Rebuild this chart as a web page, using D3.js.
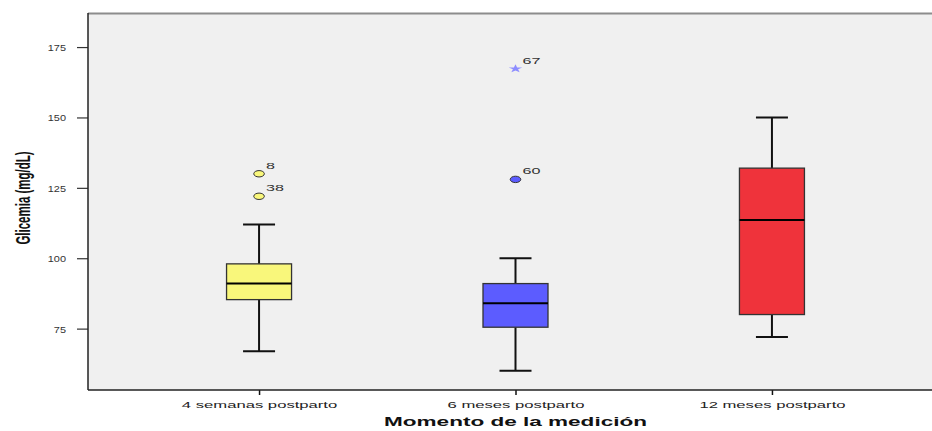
<!DOCTYPE html>
<html>
<head>
<meta charset="utf-8">
<script src="https://cdn.jsdelivr.net/npm/d3@7/dist/d3.min.js"></script>
<style>
  html, body { margin: 0; padding: 0; background: #ffffff; }
  svg { display: block; }
  text { font-family: "Liberation Sans", Arial, sans-serif; }
</style>
</head>
<body>
<svg id="chart" width="932" height="431"></svg>
<script>
// Glycemia by measurement moment (box plot)
const categories = ["4 semanas postparto", "6 meses postparto", "12 meses postparto"];
const whiskerLow  = [67, 60, 72];
const q1          = [85.3, 75.5, 80];
const median      = [91, 84, 113.6];
const q3          = [98, 91, 132];
const whiskerHigh = [112, 100, 150];
const boxColors   = ["#f9f77b", "#5c5cff", "#ef333b"];

// Outliers (circles) and extreme values (stars), labelled with case number
const outlierCategory = [0, 0, 1, 1];
const outlierValue    = [130, 122, 128, 167.3];
const outlierCase     = ["8", "38", "60", "67"];
const outlierKind     = ["circle", "circle", "circle", "star"];

const yTicks = [75, 100, 125, 150, 175];
const yDomain = [53.2, 187.1];

const xTitle = "Momento de la medición";
const yTitle = "Glicemia (mg/dL)";

const svg = d3.select("#chart");
const W = 932;
const plot = { left: 88, right: 943, top: 13, bottom: 390 };

const x = d3.scalePoint().domain(categories).range([plot.left, plot.right]).padding(0.667);
const y = d3.scaleLinear().domain(yDomain).range([plot.bottom, plot.top]);

// plot background
svg.append("rect")
  .attr("x", plot.left).attr("y", plot.top)
  .attr("width", W - plot.left).attr("height", plot.bottom - plot.top)
  .attr("fill", "#f0f0f0");

// top frame line
svg.append("line")
  .attr("x1", plot.left).attr("x2", W)
  .attr("y1", plot.top + 0.5).attr("y2", plot.top + 0.5)
  .attr("stroke", "#8c8c8c").attr("stroke-width", 2);

// Y axis
const yAxis = svg.append("g")
  .attr("transform", `translate(${plot.left},0)`)
  .call(d3.axisLeft(y).tickValues(yTicks).tickSize(11).tickPadding(0).tickFormat(d3.format("d")));
yAxis.select(".domain").remove();
yAxis.selectAll(".tick line").attr("stroke", "#333").attr("stroke-width", 1.2);
yAxis.selectAll(".tick text").each(function () {
  const t = d3.select(this);
  t.attr("x", null).attr("dy", null)
   .attr("transform", "translate(-22,3.5) scale(1.15,1)")
   .attr("text-anchor", "end")
   .attr("fill", "#333")
   .style("font-size", "9.5px")
   .style("font-family", "'Liberation Sans', Arial, sans-serif");
});

// X axis
const xAxis = svg.append("g")
  .attr("transform", `translate(0,${plot.bottom})`)
  .call(d3.axisBottom(x).tickSize(5).tickPadding(0));
xAxis.select(".domain").remove();
xAxis.selectAll(".tick line").attr("stroke", "#111").attr("stroke-width", 1.5);
xAxis.selectAll(".tick text").each(function () {
  d3.select(this).attr("y", null).attr("dy", null)
    .attr("transform", "translate(0,18) scale(1.85,1)")
    .attr("text-anchor", "middle")
    .attr("fill", "#222")
    .style("font-size", "9px")
    .style("font-family", "'Liberation Sans', Arial, sans-serif");
});

// axis lines
svg.append("line")
  .attr("x1", plot.left).attr("x2", plot.left)
  .attr("y1", plot.top).attr("y2", plot.bottom)
  .attr("stroke", "#222").attr("stroke-width", 1.5);
svg.append("line")
  .attr("x1", plot.left).attr("x2", W)
  .attr("y1", plot.bottom).attr("y2", plot.bottom)
  .attr("stroke", "#222").attr("stroke-width", 1.5);

// boxes
const boxW = 65, capW = 32;
const boxes = svg.append("g");
categories.forEach((c, i) => {
  const cx = x(c);
  const g = boxes.append("g");
  // whiskers
  g.append("line").attr("x1", cx).attr("x2", cx)
    .attr("y1", y(whiskerHigh[i])).attr("y2", y(q3[i]))
    .attr("stroke", "#111").attr("stroke-width", 2);
  g.append("line").attr("x1", cx).attr("x2", cx)
    .attr("y1", y(q1[i])).attr("y2", y(whiskerLow[i]))
    .attr("stroke", "#111").attr("stroke-width", 2);
  [whiskerHigh[i], whiskerLow[i]].forEach(v => {
    g.append("line").attr("x1", cx - capW / 2).attr("x2", cx + capW / 2)
      .attr("y1", y(v)).attr("y2", y(v))
      .attr("stroke", "#111").attr("stroke-width", 2);
  });
  // box
  g.append("rect")
    .attr("x", cx - boxW / 2).attr("y", y(q3[i]))
    .attr("width", boxW).attr("height", y(q1[i]) - y(q3[i]))
    .attr("fill", boxColors[i])
    .attr("stroke", "#333").attr("stroke-width", 1.3);
  // median
  g.append("line").attr("x1", cx - boxW / 2).attr("x2", cx + boxW / 2)
    .attr("y1", y(median[i])).attr("y2", y(median[i]))
    .attr("stroke", "#000").attr("stroke-width", 2);
});

// outliers
const pts = svg.append("g");
outlierValue.forEach((v, k) => {
  const ci = outlierCategory[k];
  const cx = x(categories[ci]);
  const cy = y(v);
  if (outlierKind[k] === "circle") {
    pts.append("ellipse")
      .attr("cx", cx).attr("cy", cy).attr("rx", 5.3).attr("ry", 3.2)
      .attr("fill", boxColors[ci]).attr("stroke", "#333").attr("stroke-width", 1);
  } else {
    pts.append("path")
      .attr("d", d3.symbol(d3.symbolStar, 22)())
      .attr("transform", `translate(${cx},${cy}) scale(1.6,1)`)
      .attr("fill", "#8c8cff");
  }
  pts.append("text")
    .attr("transform", `translate(${cx + 7},${cy - 5}) scale(1.7,1)`)
    .attr("fill", "#333")
    .style("font-size", "9.5px")
    .text(outlierCase[k]);
});

// axis titles
svg.append("text")
  .attr("transform", `translate(${(plot.left + plot.right) / 2},426) scale(1.88,1)`)
  .attr("text-anchor", "middle")
  .attr("fill", "#111")
  .style("font-size", "12px")
  .style("font-weight", "bold")
  .text(xTitle);

svg.append("text")
  .attr("transform", "translate(23,198) rotate(-90) scale(1,1.8)")
  .attr("text-anchor", "middle")
  .attr("y", 4)
  .attr("fill", "#111")
  .style("font-size", "11.5px")
  .style("font-weight", "bold")
  .text(yTitle);
</script>
</body>
</html>
